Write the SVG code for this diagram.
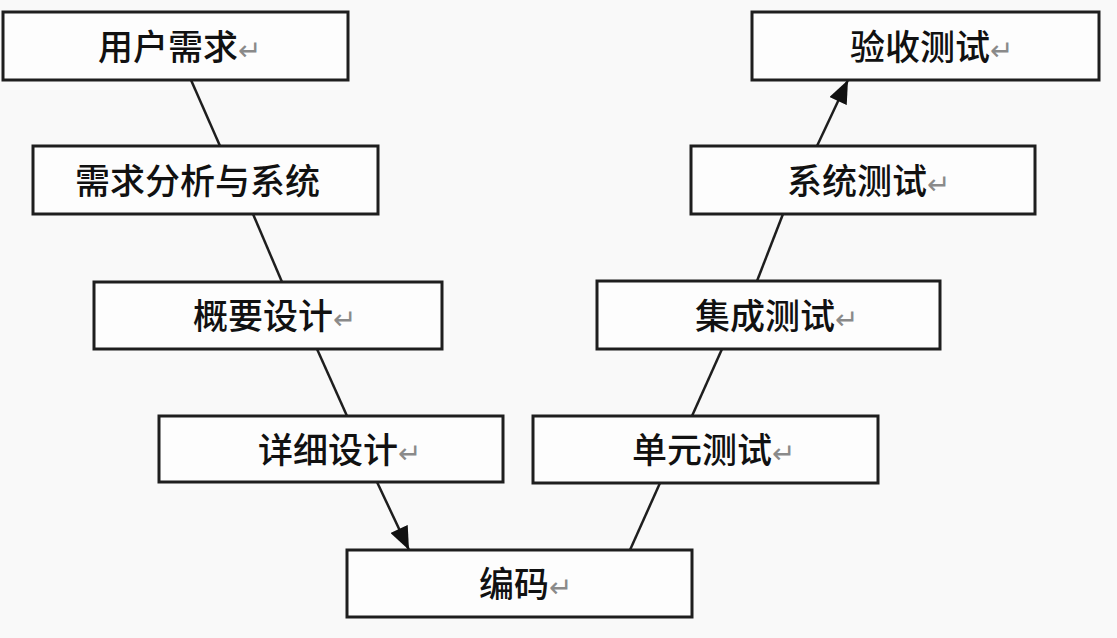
<svg xmlns="http://www.w3.org/2000/svg" width="1117" height="638" viewBox="0 0 1117 638">
<defs>
<style>
.box{fill:#fdfdfd;stroke:#1e1e1e;stroke-width:3}
.lbl{font-family:"Noto Sans CJK SC","Noto Sans",sans-serif;font-size:35px;font-weight:500;fill:#111}
.rt{font-family:"DejaVu Sans",sans-serif;font-size:28px;font-weight:400;fill:#8a8a8a}
.ln{stroke:#1e1e1e;stroke-width:2.5;fill:none}
</style>
<marker id="arr" viewBox="0 0 22 18" refX="22" refY="9" markerWidth="24" markerHeight="19" markerUnits="userSpaceOnUse" orient="auto">
<path d="M0,0 L22,9 L0,18 Z" fill="#111"/>
</marker>
</defs>
<rect width="1117" height="638" fill="#f9f9f9"/>
<g id="connectors">
<line class="ln" x1="191" y1="80" x2="220" y2="146"/>
<line class="ln" x1="253" y1="214" x2="282" y2="282"/>
<line class="ln" x1="317" y1="349" x2="347" y2="416"/>
<line class="ln" x1="377" y1="482" x2="409" y2="550" marker-end="url(#arr)"/>
<line class="ln" x1="660" y1="483" x2="630" y2="550"/>
<line class="ln" x1="722" y1="349" x2="692" y2="416"/>
<line class="ln" x1="783" y1="214" x2="757" y2="281"/>
<line class="ln" x1="817" y1="146" x2="848" y2="80" marker-end="url(#arr)"/>
</g>
<g id="n1"><rect class="box" x="3" y="12" width="345" height="68"/><text class="lbl" x="98" y="60">用户需求<tspan class="rt">↵</tspan></text></g>
<g id="n2"><rect class="box" x="33" y="146" width="345" height="68"/><text class="lbl" x="75" y="194">需求分析与系统</text></g>
<g id="n3"><rect class="box" x="94" y="282" width="348" height="67"/><text class="lbl" x="193" y="329">概要设计<tspan class="rt">↵</tspan></text></g>
<g id="n4"><rect class="box" x="159" y="416" width="344" height="66"/><text class="lbl" x="258" y="463">详细设计<tspan class="rt">↵</tspan></text></g>
<g id="n5"><rect class="box" x="347" y="550" width="345" height="67"/><text class="lbl" x="479" y="597">编码<tspan class="rt">↵</tspan></text></g>
<g id="n6"><rect class="box" x="533" y="416" width="345" height="67"/><text class="lbl" x="632" y="463">单元测试<tspan class="rt">↵</tspan></text></g>
<g id="n7"><rect class="box" x="597" y="281" width="343" height="68"/><text class="lbl" x="695" y="329">集成测试<tspan class="rt">↵</tspan></text></g>
<g id="n8"><rect class="box" x="691" y="146" width="344" height="68"/><text class="lbl" x="787" y="194">系统测试<tspan class="rt">↵</tspan></text></g>
<g id="n9"><rect class="box" x="752" y="12" width="347" height="68"/><text class="lbl" x="850" y="60">验收测试<tspan class="rt">↵</tspan></text></g>
</svg>
